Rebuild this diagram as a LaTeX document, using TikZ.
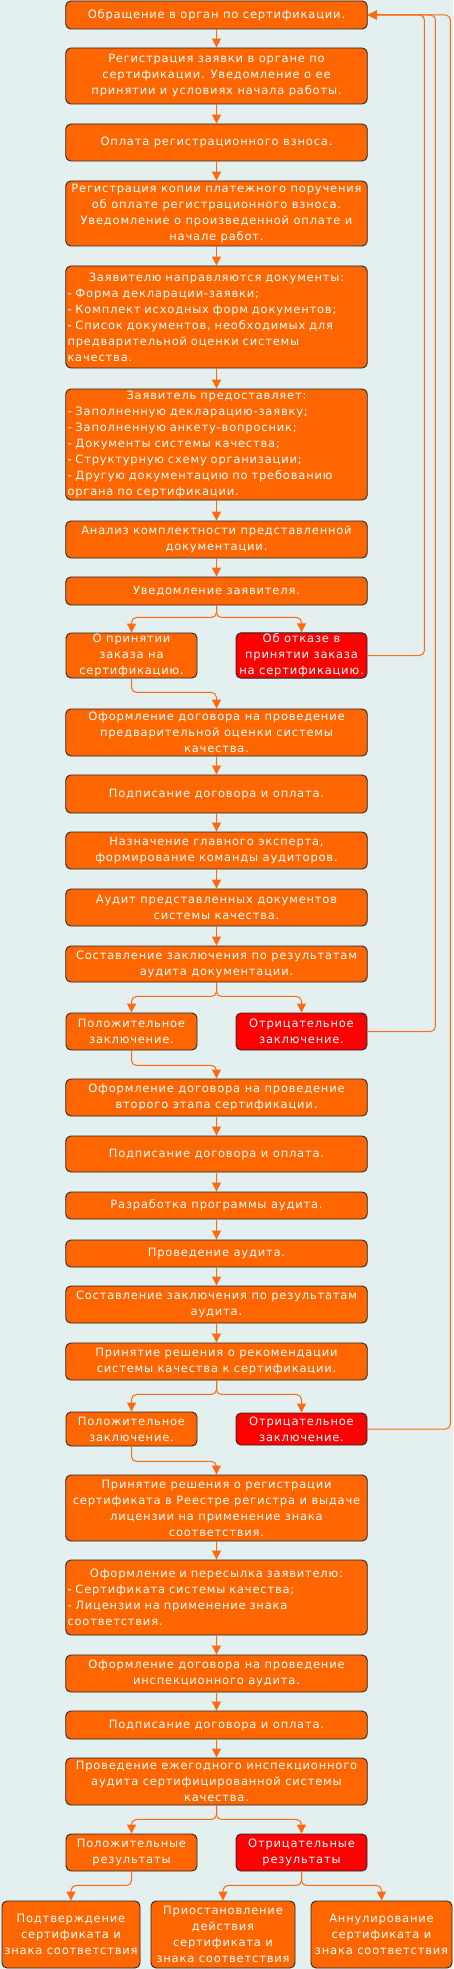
\documentclass[tikz,border=0pt]{standalone}
\usepackage{fontspec}
\setmainfont{DejaVu Sans}[LetterSpace=7]
\usetikzlibrary{arrows.meta,positioning}

\definecolor{bgteal}{HTML}{E4F0EF}
\definecolor{boxorange}{HTML}{FF6600}
\definecolor{boxred}{HTML}{FF0000}
\definecolor{lineorange}{HTML}{FF6A10}

\begin{document}
\begin{tikzpicture}[x=1pt,y=-1pt,
    every node/.style={font=\fontsize{11.5}{16}\selectfont, text=white},
    mainbox/.style={draw=black!85, line width=0.9pt, fill=boxorange, rounded corners=5pt, minimum width=301.5pt, inner sep=1pt, align=center},
    listbox/.style={mainbox, text width=298pt, align=left},
    halfbox/.style={draw=black!85, line width=0.9pt, fill=boxorange, rounded corners=5pt, minimum width=131pt, inner sep=1pt, align=center},
    endbox/.style={halfbox, minimum width=141pt, minimum height=67pt},
    refuse/.style={fill=boxred},
    flow/.style={draw=lineorange, line width=1pt, rounded corners=5pt, -{Triangle[width=9pt,length=9pt]}}]
    \fill[bgteal] (0,0) rectangle (453,1969);
    % first stage: application and documents
    \node[mainbox, minimum height=28pt] (appl) at (216.5,15) {Обращение в орган по сертификации.};
    \node[mainbox, minimum height=56pt] (reg) at (216.5,76) {Регистрация заявки в органе по\\сертификации. Уведомление о ее\\принятии и условиях начала работы.};
    \node[mainbox, minimum height=37pt] (fee) at (216.5,142.5) {Оплата регистрационного взноса.};
    \node[mainbox, minimum height=65pt] (copy) at (216.5,213.5) {Регистрация копии платежного поручения\\об оплате регистрационного взноса.\\Уведомление о произведенной оплате и\\начале работ.};
    \node[listbox, minimum height=102pt] (docs) at (216.5,317) {{\centering Заявителю направляются документы:\par}- Форма декларации-заявки;\\- Комплект исходных форм документов;\\- Список документов, необходимых для\\предварительной оценки системы\\качества.};
    \node[listbox, minimum height=111pt] (provide) at (216.5,444.5) {{\centering Заявитель предоставляет:\par}- Заполненную декларацию-заявку;\\- Заполненную анкету-вопросник;\\- Документы системы качества;\\- Структурную схему организации;\\- Другую документацию по требованию\\органа по сертификации.};
    \node[mainbox, minimum height=37pt] (check) at (216.5,539.5) {Анализ комплектности представленной\\документации.};
    \node[mainbox, minimum height=28pt] (notify) at (216.5,591) {Уведомление заявителя.};
    \node[halfbox, minimum height=45pt] (accept) at (131.5,655.5) {О принятии\\заказа на\\сертификацию.};
    \node[halfbox, refuse, minimum height=45pt] (reject) at (301.5,655.5) {Об отказе в\\принятии заказа\\на сертификацию.};
    % preliminary assessment
    \node[mainbox, minimum height=47pt] (contr1) at (216.5,732.5) {Оформление договора на проведение\\предварительной оценки системы\\качества.};
    \node[mainbox, minimum height=38pt] (pay1) at (216.5,794) {Подписание договора и оплата.};
    \node[mainbox, minimum height=37pt] (expert) at (216.5,850.5) {Назначение главного эксперта,\\формирование команды аудиторов.};
    \node[mainbox, minimum height=37pt] (audit1) at (216.5,907.5) {Аудит представленных документов\\системы качества.};
    \node[mainbox, minimum height=36pt] (concl1) at (216.5,964) {Составление заключения по результатам\\аудита документации.};
    \node[halfbox, minimum height=37pt] (pos1) at (131.5,1031.5) {Положительное\\заключение.};
    \node[halfbox, refuse, minimum height=37pt] (neg1) at (301.5,1031.5) {Отрицательное\\заключение.};
    % second stage
    \node[mainbox, minimum height=37pt] (contr2) at (216.5,1097.5) {Оформление договора на проведение\\второго этапа сертификации.};
    \node[mainbox, minimum height=36pt] (pay2) at (216.5,1154) {Подписание договора и оплата.};
    \node[mainbox, minimum height=27pt] (prog) at (216.5,1205.5) {Разработка программы аудита.};
    \node[mainbox, minimum height=27pt] (audit2) at (216.5,1253.5) {Проведение аудита.};
    \node[mainbox, minimum height=37pt] (concl2) at (216.5,1304.5) {Составление заключения по результатам\\аудита.};
    \node[mainbox, minimum height=37pt] (decide) at (216.5,1361.5) {Принятие решения о рекомендации\\системы качества к сертификации.};
    \node[halfbox, minimum height=34pt] (pos2) at (131.5,1429) {Положительное\\заключение.};
    \node[halfbox, refuse, minimum height=32pt] (neg2) at (301.5,1429) {Отрицательное\\заключение.};
    % certificate and inspection
    \node[mainbox, minimum height=66pt] (license) at (216.5,1508) {Принятие решения о регистрации\\сертификата в Реестре регистра и выдаче\\лицензии на применение знака\\соответствия.};
    \node[listbox, minimum height=75pt] (send) at (216.5,1597.5) {{\centering Оформление и пересылка заявителю:\par}- Сертификата системы качества;\\- Лицензии на применение знака\\соответствия.};
    \node[mainbox, minimum height=37pt] (contr3) at (216.5,1673.5) {Оформление договора на проведение\\инспекционного аудита.};
    \node[mainbox, minimum height=28pt] (pay3) at (216.5,1725) {Подписание договора и оплата.};
    \node[mainbox, minimum height=47pt] (inspect) at (216.5,1781.5) {Проведение ежегодного инспекционного\\аудита сертифицированной системы\\качества.};
    \node[halfbox, minimum height=37pt] (pos3) at (131.5,1852.5) {Положительные\\результаты};
    \node[halfbox, refuse, minimum height=37pt] (neg3) at (301.5,1852.5) {Отрицательные\\результаты};
    \node[endbox, minimum width=138pt] (confirm) at (71,1934.5) {Подтверждение\\сертификата и\\знака соответствия};
    \node[endbox, minimum width=144pt] (suspend) at (223,1934.5) {Приостановление\\действия\\сертификата и\\знака соответствия};
    \node[endbox] (annul) at (381.5,1934.5) {Аннулирование\\сертификата и\\знака соответствия};
    % straight steps
    \foreach \a/\b in {appl/reg, reg/fee, fee/copy, copy/docs, docs/provide, provide/check, check/notify,
        contr1/pay1, pay1/expert, expert/audit1, audit1/concl1,
        contr2/pay2, pay2/prog, prog/audit2, audit2/concl2, concl2/decide,
        license/send, send/contr3, contr3/pay3, pay3/inspect}
        \draw[flow] (\a) -- (\b);
    % branches
    \draw[flow] (notify.south) -- ++(0,12) -| (accept.north);
    \draw[flow] (notify.south) -- ++(0,12) -| (reject.north);
    \draw[flow] (accept.south) -- ++(0,14) -| (contr1.north);
    \draw[flow] (concl1.south) -- ++(0,14) -| (pos1.north);
    \draw[flow] (concl1.south) -- ++(0,14) -| (neg1.north);
    \draw[flow] (pos1.south) -- ++(0,15) -| (contr2.north);
    \draw[flow] (decide.south) -- ++(0,14) -| (pos2.north);
    \draw[flow] (decide.south) -- ++(0,14) -| (neg2.north);
    \draw[flow] (pos2.south) -- ++(0,15) -| (license.north);
    \draw[flow] (inspect.south) -- ++(0,14) -| (pos3.north);
    \draw[flow] (inspect.south) -- ++(0,14) -| (neg3.north);
    \draw[flow] (pos3.south) -- ++(0,14) -| (confirm.north);
    \draw[flow] (neg3.south) -- ++(0,14) -| (suspend.north);
    \draw[flow] (neg3.south) -- ++(0,14) -| (annul.north);
    % back to the start
    \draw[flow] (reject.east) -- ++(57,0) |- (appl.east);
    \draw[flow] (neg1.east) -- ++(68,0) |- (appl.east);
    \draw[flow] (neg2.east) -- ++(83,0) |- (appl.east);
\end{tikzpicture}
\end{document}
